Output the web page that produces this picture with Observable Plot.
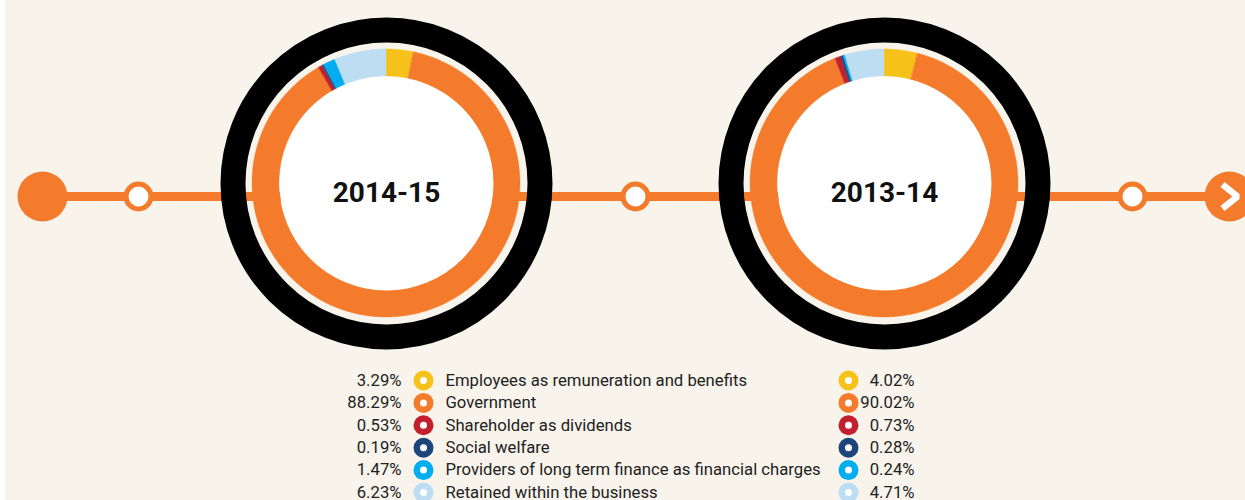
<!DOCTYPE html>
<html>
<head>
<meta charset="utf-8">
<script src="https://cdn.jsdelivr.net/npm/d3@7"></script>
<script src="https://cdn.jsdelivr.net/npm/@observablehq/plot@0.6"></script>
<style>
  html, body { margin: 0; padding: 0; background: #F8F4EC; }
  body { width: 1245px; height: 500px; overflow: hidden; position: relative; }
  #strip { position: absolute; left: 0; top: 0; width: 5px; height: 500px; background: #fff; z-index: 2; }
  #chart { position: absolute; left: 0; top: 0; }
</style>
</head>
<body>
<div id="strip"></div>
<div id="chart"></div>
<script>
// ---- data ----
const categories = [
  "Employees as remuneration and benefits",
  "Government",
  "Shareholder as dividends",
  "Social welfare",
  "Providers of long term finance as financial charges",
  "Retained within the business"
];
const years = ["2014-15", "2013-14"];
const values2014_15 = [3.29, 88.29, 0.53, 0.19, 1.47, 6.23];
const values2013_14 = [4.02, 90.02, 0.73, 0.28, 0.24, 4.71];
const pctLabels2014_15 = ["3.29%", "88.29%", "0.53%", "0.19%", "1.47%", "6.23%"];
const pctLabels2013_14 = ["4.02%", "90.02%", "0.73%", "0.28%", "0.24%", "4.71%"];

// ---- styles / layout ----
const colors = ["#F6C21A", "#F47B2B", "#C3202F", "#1C457B", "#00AEEF", "#BDDDF3"];
const ORANGE = "#F47B2B";
const W = 1245, H = 500;
const lineY = 196;
const donutCY = 183;
const yearX = [386, 884];
const nodeX = [138, 635, 1132];
const startX = 42, endX = 1229;
const rOuter = 134, rInner = 107;

const seriesByYear = [values2014_15, values2013_14];

// arc polygons built from the cumulative shares
const arcPoints = [];
years.forEach((yr, yi) => {
  const vals = seriesByYear[yi];
  const total = d3.sum(vals);
  let acc = 0;
  vals.forEach((v, ci) => {
    const a0 = acc / total * 2 * Math.PI;
    acc += v;
    const a1 = acc / total * 2 * Math.PI;
    const n = Math.max(2, Math.ceil((a1 - a0) / (Math.PI / 360)));
    for (let k = 0; k <= n; k++) {
      const a = a0 + (a1 - a0) * k / n;
      arcPoints.push({
        key: yr + "|" + ci,
        category: categories[ci],
        xo: yearX[yi] + rOuter * Math.sin(a),
        yo: donutCY - rOuter * Math.cos(a),
        xi: yearX[yi] + rInner * Math.sin(a),
        yi: donutCY - rInner * Math.cos(a)
      });
    }
  });
});

const yearRows = years.map((y, i) => ({year: y, x: yearX[i]}));
const nodeRows = nodeX.map(x => ({x}));

const rowY = i => 380 + i * 22.4;
const legendRows = categories.map((c, i) => ({
  category: c, y: rowY(i), p1: pctLabels2014_15[i], p2: pctLabels2013_14[i]
}));

const chevron = [
  {x: endX - 7, y: lineY - 12},
  {x: endX + 8, y: lineY},
  {x: endX - 7, y: lineY + 12}
];

const FONT = "Roboto, 'Noto Sans', sans-serif";
const LFS = 16.7;

const chart = Plot.plot({
  width: W,
  height: H,
  margin: 0,
  style: {background: "transparent", fontFamily: FONT, overflow: "hidden"},
  x: {domain: [0, W], range: [0, W], axis: null},
  y: {domain: [0, H], range: [0, H], axis: null},
  color: {domain: categories, range: colors},
  marks: [
    // timeline
    Plot.line([{x: startX, y: lineY}, {x: endX, y: lineY}], {x: "x", y: "y", stroke: ORANGE, strokeWidth: 9}),
    Plot.dot([{x: startX, y: lineY}], {x: "x", y: "y", r: 25, fill: ORANGE}),
    Plot.dot([{x: endX, y: lineY}], {x: "x", y: "y", r: 25, fill: ORANGE}),
    Plot.line(chevron, {x: "x", y: "y", stroke: "white", strokeWidth: 6.5, strokeLinejoin: "miter", strokeLinecap: "butt"}),
    Plot.dot(nodeRows, {x: "x", y: () => lineY, r: 12.5, fill: "white", stroke: ORANGE, strokeWidth: 5}),
    // black outer rings
    Plot.dot(yearRows, {x: "x", y: () => donutCY, r: 153.5, fill: "none", stroke: "black", strokeWidth: 25}),
    // donut slices
    Plot.area(arcPoints, {x1: "xi", y1: "yi", x2: "xo", y2: "yo", z: "key", fill: "category", stroke: "category", strokeWidth: 0.4, curve: "linear"}),
    // white centre
    Plot.dot(yearRows, {x: "x", y: () => donutCY, r: rInner, fill: "white"}),
    Plot.text(yearRows, {x: "x", y: () => 193, text: "year", fontSize: 28, fontWeight: "bold", fill: "#111"}),
    // legend
    Plot.text(legendRows, {x: () => 401, y: "y", text: "p1", textAnchor: "end", fontSize: LFS, fill: "#222"}),
    Plot.dot(legendRows, {x: () => 423, y: "y", r: 10, fill: "category"}),
    Plot.dot(legendRows, {x: () => 423, y: "y", r: 3.5, fill: "white"}),
    Plot.text(legendRows, {x: () => 445, y: "y", text: "category", textAnchor: "start", fontSize: LFS, fill: "#222"}),
    Plot.dot(legendRows, {x: () => 848, y: "y", r: 10, fill: "category"}),
    Plot.dot(legendRows, {x: () => 848, y: "y", r: 3.5, fill: "white"}),
    Plot.text(legendRows, {x: () => 914, y: "y", text: "p2", textAnchor: "end", fontSize: LFS, fill: "#222"})
  ]
});
document.getElementById("chart").appendChild(chart);
</script>
</body>
</html>
